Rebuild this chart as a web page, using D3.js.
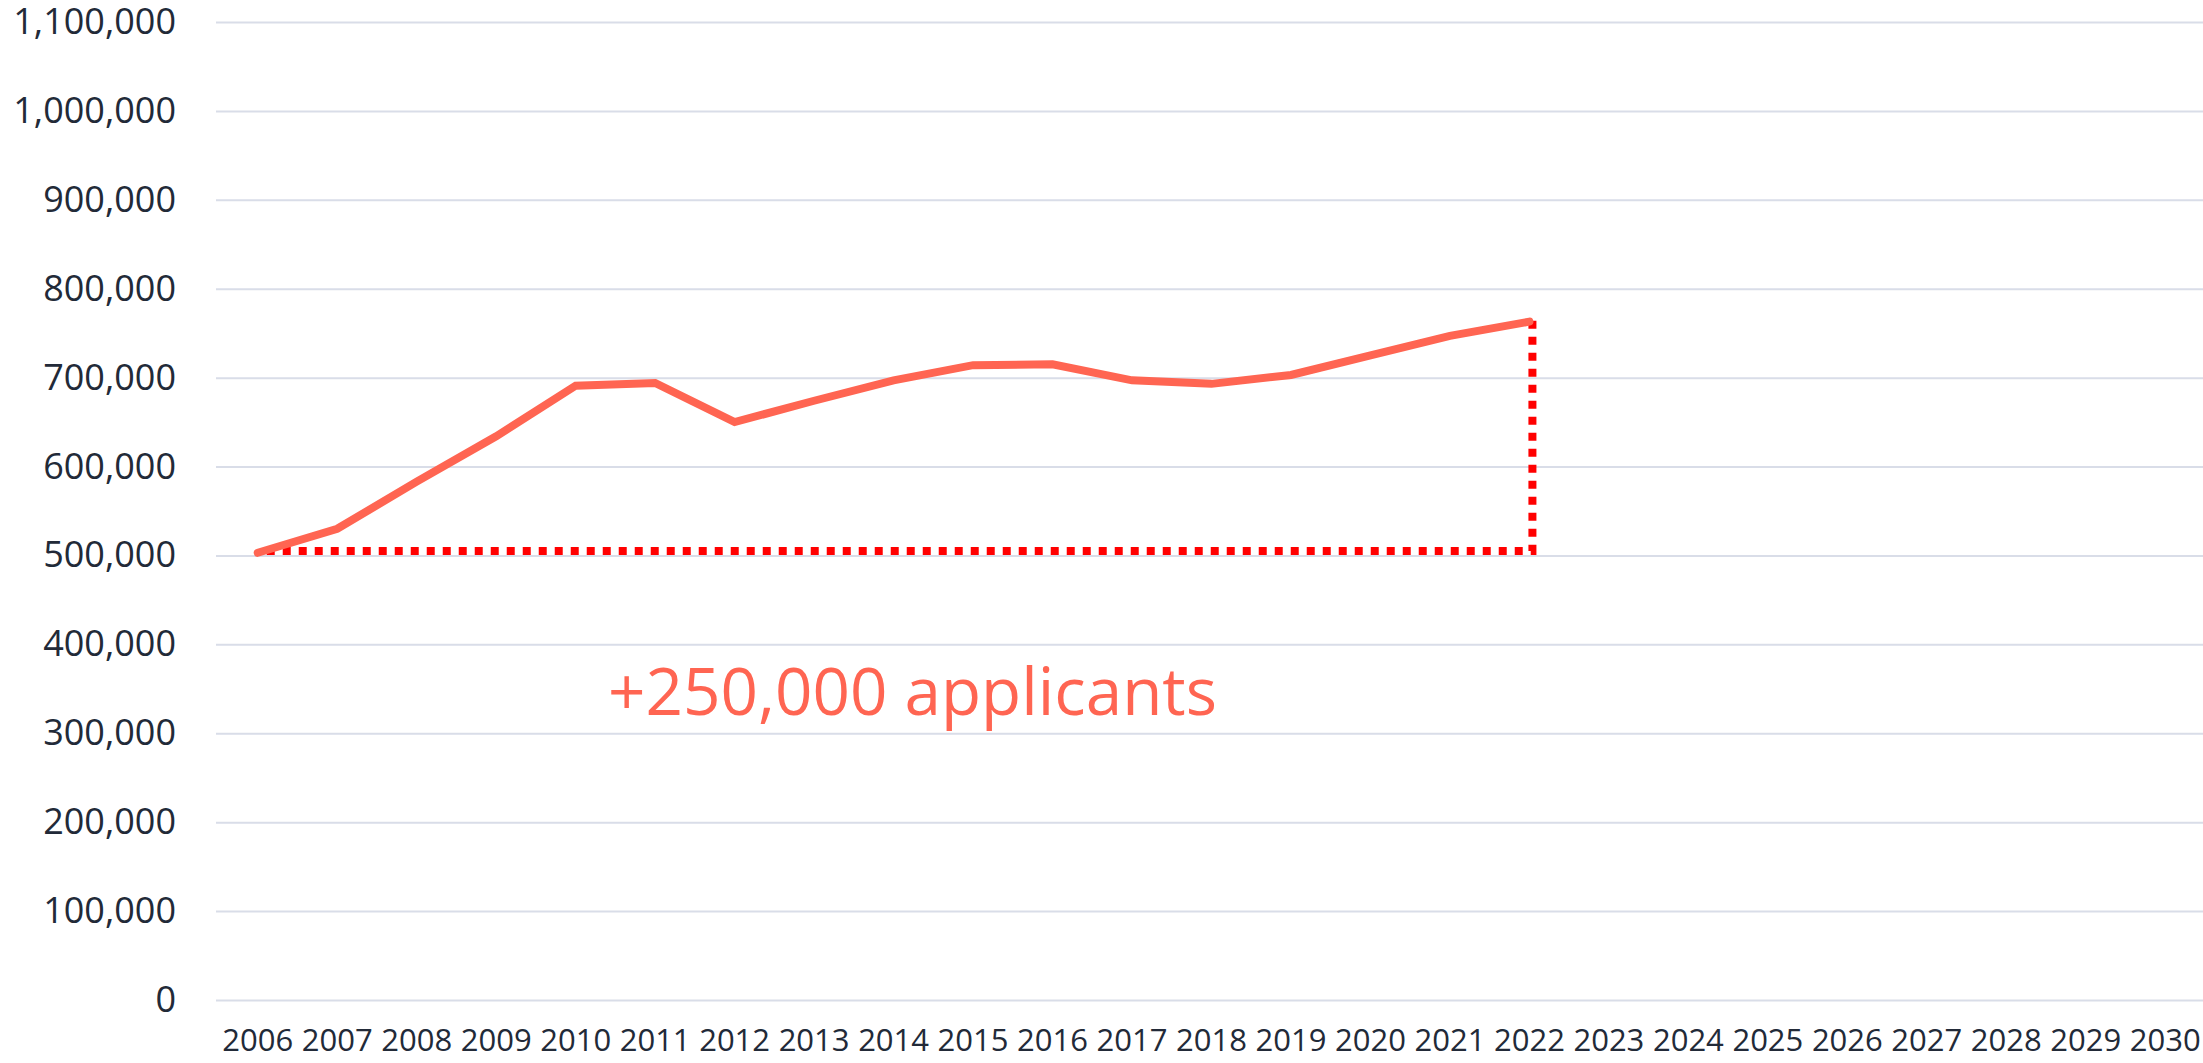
<!DOCTYPE html>
<html>
<head>
<meta charset="utf-8">
<script src="https://cdn.jsdelivr.net/npm/d3@7"></script>
<style>
  body { margin: 0; background: #fff; }
  svg { display: block; }
</style>
</head>
<body>
<svg id="chart"></svg>
<script>
// categories on the x axis
var years = [2006, 2007, 2008, 2009, 2010, 2011, 2012, 2013, 2014, 2015, 2016, 2017,
  2018, 2019, 2020, 2021, 2022, 2023, 2024, 2025, 2026, 2027, 2028, 2029, 2030];

// applicants series (only up to 2022)
var appYears = [2006, 2007, 2008, 2009, 2010, 2011, 2012, 2013, 2014, 2015, 2016,
  2017, 2018, 2019, 2020, 2021, 2022];
var applicants = [503000, 530000, 583000, 634000, 691000, 694000, 650000, 674000,
  697000, 714000, 715000, 697000, 693000, 703000, 725000, 747000, 763000];

var yTicks = [0, 100000, 200000, 300000, 400000, 500000, 600000, 700000, 800000,
  900000, 1000000, 1100000];

// dotted "gap" marker
var gapYears = [2006, 2022, 2022];
var gapValues = [505000, 505000, 766000];

var annotation = "+250,000 applicants";

var dimensions = {
  width: 2203,
  height: 1063,
  margin: { top: 22, right: -2, bottom: 63, left: 218 },
};
dimensions.boundedWidth =
  dimensions.width - dimensions.margin.left - dimensions.margin.right;
dimensions.boundedHeight =
  dimensions.height - dimensions.margin.top - dimensions.margin.bottom;

var svg = d3
  .select("#chart")
  .attr("width", dimensions.width)
  .attr("height", dimensions.height);

var xScale = d3
  .scaleBand()
  .domain(years)
  .range([dimensions.margin.left, dimensions.margin.left + dimensions.boundedWidth])
  .padding(0);

var xCenter = (d) => xScale(d) + xScale.bandwidth() / 2;

var yScale = d3
  .scaleLinear()
  .domain([0, 1100000])
  .range([dimensions.margin.top + dimensions.boundedHeight, dimensions.margin.top]);

// gridlines + y labels
var yAxis = d3
  .axisLeft(yScale)
  .tickValues(yTicks)
  .tickFormat(d3.format(","))
  .tickSize(-(dimensions.width - dimensions.margin.left + 2))
  .tickPadding(40);

var yG = svg
  .append("g")
  .attr("transform", "translate(" + (dimensions.margin.left - 2) + ",0)")
  .call(yAxis);
yG.select(".domain").remove();
yG.selectAll(".tick line")
  .attr("stroke", "#d9dde8")
  .attr("stroke-width", 2);
yG.selectAll(".tick text")
  .attr("fill", "#222a38")
  .style("font-family", "'Open Sans', sans-serif")
  .style("font-size", "36px");

// x labels
var xAxis = d3.axisBottom(xScale).tickSize(0).tickPadding(0);
var xG = svg
  .append("g")
  .attr("transform", "translate(0," + (dimensions.height - 34) + ")")
  .call(xAxis);
xG.select(".domain").remove();
xG.selectAll(".tick text")
  .attr("fill", "#222a38")
  .attr("dy", "0.71em")
  .style("font-family", "'Open Sans', sans-serif")
  .style("font-size", "31px");

// dotted gap lines
var gapData = gapYears.map((y, i) => ({ year: y, value: gapValues[i] }));
svg
  .append("path")
  .datum(gapData)
  .attr("fill", "none")
  .attr("stroke", "#ff0000")
  .attr("stroke-width", 8)
  .attr("stroke-dasharray", "8 8")
  .attr("stroke-dashoffset", -6)
  .attr(
    "d",
    d3.line().x((d) => xCenter(d.year) + 3).y((d) => yScale(d.value))
  );

// applicants line
var lineData = appYears.map((y, i) => ({ year: y, value: applicants[i] }));
svg
  .append("path")
  .datum(lineData)
  .attr("fill", "none")
  .attr("stroke", "#ff6552")
  .attr("stroke-width", 8)
  .attr("stroke-linecap", "round")
  .attr("stroke-linejoin", "miter")
  .attr(
    "d",
    d3.line().x((d) => xCenter(d.year)).y((d) => yScale(d.value))
  );

// annotation
svg
  .append("text")
  .attr("x", 608)
  .attr("y", 715)
  .attr("fill", "#ff6552")
  .attr("textLength", 609)
  .attr("lengthAdjust", "spacingAndGlyphs")
  .style("font-family", "'Open Sans', sans-serif")
  .style("font-size", "65px")
  .text(annotation);
</script>
</body>
</html>
